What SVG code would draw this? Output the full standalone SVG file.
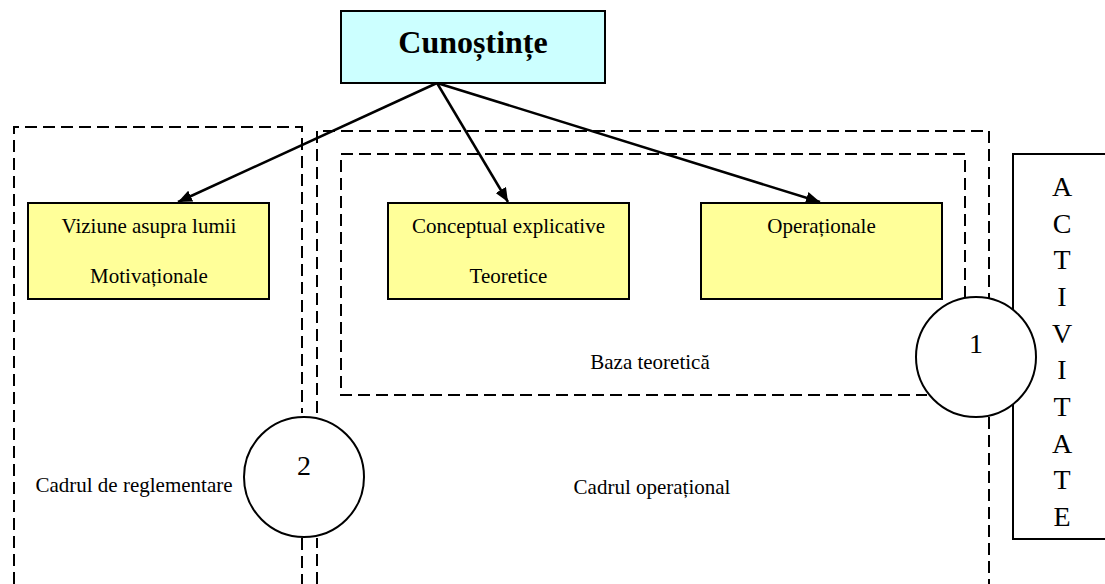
<svg xmlns="http://www.w3.org/2000/svg" width="1105" height="584" viewBox="0 0 1105 584">
  <style>
    .dash { fill: none; stroke: #000; stroke-width: 2; stroke-dasharray: 12 6; }
    .solid { fill: none; stroke: #000; stroke-width: 2; }
    .box { stroke: #000; stroke-width: 2; }
    .yellow { fill: #ffff99; }
    .cyan { fill: #ccffff; }
    .ring { fill: #fff; stroke: #000; stroke-width: 2; }
    .t { font-family: "Liberation Serif", "Times New Roman", serif; font-size: 21px; fill: #000; text-anchor: middle; }
    .big { font-size: 28px; }
    .title { font-size: 32px; font-weight: bold; }
  </style>
  <defs>
    <marker id="arrow" markerWidth="14" markerHeight="12" refX="14" refY="6" orient="auto" markerUnits="userSpaceOnUse">
      <path d="M0,0 L14,6 L0,12 Z" fill="#000"/>
    </marker>
  </defs>

  <rect width="1105" height="584" fill="#fff"/>

  <!-- dashed frames -->
  <g id="frames">
    <!-- Cadrul de reglementare -->
    <path class="dash" d="M14,584 V127 H302 V413 M302,538 V584"/>
    <!-- Cadrul operational -->
    <path class="dash" d="M317,584 V538 M317,413 V131 H989 V417 M989,417 V584"/>
    <!-- Baza teoretica -->
    <path class="dash" d="M965,298 V154 H341 V395 H927"/>
  </g>

  <!-- ACTIVITATE panel -->
  <g id="activitate">
    <path class="solid" d="M1110,154 H1013 V539 H1110"/>
    <text class="t big" x="1062" y="196">A</text>
    <text class="t big" x="1062" y="232.7">C</text>
    <text class="t big" x="1062" y="269.3">T</text>
    <text class="t big" x="1062" y="306">I</text>
    <text class="t big" x="1062" y="342.7">V</text>
    <text class="t big" x="1062" y="379.3">I</text>
    <text class="t big" x="1062" y="416">T</text>
    <text class="t big" x="1062" y="452.7">A</text>
    <text class="t big" x="1062" y="489.3">T</text>
    <text class="t big" x="1062" y="526">E</text>
  </g>

  <!-- connectors -->
  <g id="connectors" stroke="#000" stroke-width="2.5" fill="none">
    <line x1="437" y1="83" x2="178" y2="202" marker-end="url(#arrow)"/>
    <line x1="437" y1="83" x2="508" y2="202" marker-end="url(#arrow)"/>
    <line x1="437" y1="83" x2="820" y2="202" marker-end="url(#arrow)"/>
  </g>

  <g id="cunostinte">
    <rect class="box cyan" x="341" y="11" width="264" height="72"/>
    <text class="t title" x="473" y="53">Cunoștințe</text>
  </g>

  <g id="viziune">
    <rect class="box yellow" x="28" y="203" width="241" height="96"/>
    <text class="t" x="149" y="233">Viziune asupra lumii</text>
    <text class="t" x="149" y="283">Motivaționale</text>
  </g>

  <g id="conceptual">
    <rect class="box yellow" x="388" y="203" width="241" height="96"/>
    <text class="t" x="508.5" y="233">Conceptual explicative</text>
    <text class="t" x="508.5" y="283">Teoretice</text>
  </g>

  <g id="operationale">
    <rect class="box yellow" x="701" y="203" width="241" height="96"/>
    <text class="t" x="821.5" y="233">Operaționale</text>
  </g>

  <g id="labels">
    <text class="t" x="650" y="369">Baza teoretică</text>
    <text class="t" x="134" y="492">Cadrul de reglementare</text>
    <text class="t" x="652" y="494">Cadrul operațional</text>
  </g>

  <g id="circle-1">
    <circle class="ring" cx="976" cy="357" r="60"/>
    <text class="t big" x="976" y="353">1</text>
  </g>

  <g id="circle-2">
    <circle class="ring" cx="304" cy="477" r="60"/>
    <text class="t big" x="304" y="475">2</text>
  </g>
</svg>
